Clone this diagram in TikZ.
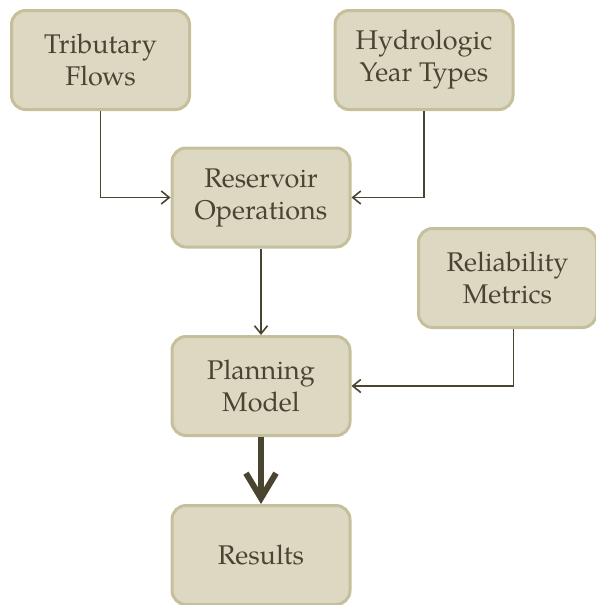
\documentclass[tikz,border=0pt]{standalone}
\usepackage{fontspec}
\setmainfont{TeX Gyre Pagella}
\usetikzlibrary{arrows.meta}
\definecolor{boxfill}{HTML}{DDD8C2}
\definecolor{boxline}{HTML}{C6BF9C}
\definecolor{ink}{HTML}{4A4530}
\tikzset{
  box/.style={draw=boxline, line width=3pt, fill=boxfill, rounded corners=14pt,
    minimum width=178pt, minimum height=99pt, inner sep=0pt, align=center,
    text=ink, font=\fontsize{27}{32}\selectfont},
  conn/.style={draw=ink, line width=1.6pt, -{Straight Barb[length=8pt,width=13pt,line width=1.6pt]}},
  thick conn/.style={draw=ink, line width=6.5pt, -{Straight Barb[length=25pt,width=30pt,line width=6pt]}}
}
\begin{document}
\begin{tikzpicture}[x=1pt,y=-1pt]
\useasboundingbox (0,0) rectangle (595,605);
\node[box] (trib) at (100.5,60) {Tributary\\Flows};
\node[box] (hydro) at (424,60) {Hydrologic\\Year Types};
\node[box] (res) at (261,197.5) {Reservoir\\Operations};
\node[box] (rel) at (507.5,278) {Reliability\\Metrics};
\node[box] (plan) at (261,386) {Planning\\Model};
\node[box] (out) at (261,555) {Results};
\draw[conn] (trib.south) |- (res.west);
\draw[conn] (hydro.south) |- (res.east);
\draw[conn] (res.south) -- (plan.north);
\draw[conn] ([xshift=6pt]rel.south) |- (plan.east);
\draw[thick conn] (plan.south) -- (out.north);
\end{tikzpicture}
\end{document}
